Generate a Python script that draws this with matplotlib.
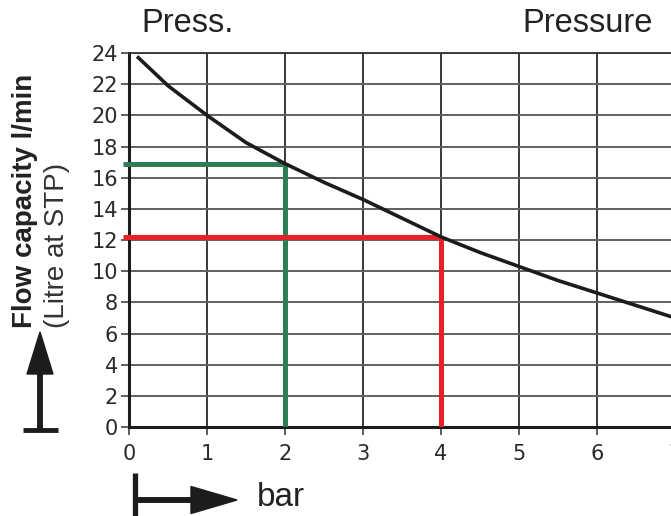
import matplotlib.pyplot as plt
from matplotlib.patches import FancyArrow

W, H = 671, 516

# curve
pressure = [0.12, 0.5, 1.0, 1.5, 2.0, 2.5, 3.0, 3.5, 4.0, 4.5, 5.0, 5.5, 6.0, 6.5, 7.0]
flow = [23.7, 21.9, 20.0, 18.25, 16.9, 15.7, 14.6, 13.4, 12.2, 11.2, 10.3, 9.4, 8.6, 7.8, 7.0]

# reading examples (pressure, flow)
green_pt = (2.0, 16.9)
red_pt = (4.0, 12.2)

x_ticks = [0, 1, 2, 3, 4, 5, 6, 7]
y_ticks = list(range(0, 25, 2))

GREEN = '#2f7d52'
RED = '#e8202a'
INK = '#1c1c1c'

plt.rcParams['font.family'] = ['Liberation Sans', 'DejaVu Sans']

fig = plt.figure(figsize=(W / 100, H / 100), dpi=100)
fig.patch.set_facecolor('white')

ax = fig.add_axes([129 / W, 89 / H, 546 / W, 374 / H])
ax.set_xlim(0, 7)
ax.set_ylim(0, 24)
ax.set_xticks(x_ticks)
ax.set_yticks(y_ticks)

ax.xaxis.grid(True, color='#2a2a2a', linewidth=1.3)
ax.yaxis.grid(True, color='#606060', linewidth=1.4)
ax.set_axisbelow(True)

for side in ['left', 'bottom']:
    ax.spines[side].set_linewidth(2.2)
    ax.spines[side].set_color(INK)
ax.spines['top'].set_linewidth(1.3)
ax.spines['top'].set_color('#333333')
ax.spines['right'].set_visible(False)

tick_font = {'family': ['Liberation Sans Narrow', 'DejaVu Sans'], 'size': 15}
ax.tick_params(axis='both', direction='out', length=6, width=1.1, color='#333333',
               labelcolor='#2a2a2a')
ax.tick_params(axis='x', pad=6)
ax.tick_params(axis='y', pad=2)
ax.set_xticklabels([str(t) for t in x_ticks], fontdict=tick_font)
ax.set_yticklabels([str(t) for t in y_ticks], fontdict=tick_font)

# guide lines
for (px, py), col in [(green_pt, GREEN), (red_pt, RED)]:
    ax.plot([-0.08, px], [py, py], color=col, linewidth=3.6, solid_capstyle='butt',
            clip_on=False, zorder=3)
    ax.plot([px, px], [0, py], color=col, linewidth=3.6, solid_capstyle='butt', zorder=3)

ax.plot(pressure, flow, color=INK, linewidth=2.6, zorder=4)

# titles
fig.text(188 / W, 1 - 23 / H, 'Press.', fontsize=23.5, color='#222222', ha='center', va='center')
fig.text(588 / W, 1 - 24 / H, 'Pressure', fontsize=23.5, color='#222222', ha='center', va='center')
fig.text(281 / W, 1 - 497 / H, 'bar', fontsize=24, color='#222222', ha='center', va='center')

fig.text(25 / W, 1 - 328 / H, 'Flow capacity l/min', fontsize=20, fontweight='bold',
         color='#222222', rotation=90, ha='center', va='bottom')
fig.text(57 / W, 1 - 328 / H, '(Litre at STP)', fontsize=20, color='#333333',
         rotation=90, ha='center', va='bottom')

# arrows (drawn in pixel space)
over = fig.add_axes([0, 0, 1, 1], facecolor='none')
over.set_xlim(0, W)
over.set_ylim(H, 0)
over.axis('off')

over.plot([23, 58], [430, 430], color=INK, linewidth=3.5, solid_capstyle='butt')
over.add_patch(FancyArrow(40, 430, 0, -98, width=4.5, head_width=26, head_length=42,
                          length_includes_head=True, color=INK))
over.plot([135, 135], [473, 520], color=INK, linewidth=3.8, solid_capstyle='butt')
over.add_patch(FancyArrow(135, 500, 102, 0, width=4.5, head_width=27, head_length=46,
                          length_includes_head=True, color=INK))

fig.savefig('out.png', dpi=100)
